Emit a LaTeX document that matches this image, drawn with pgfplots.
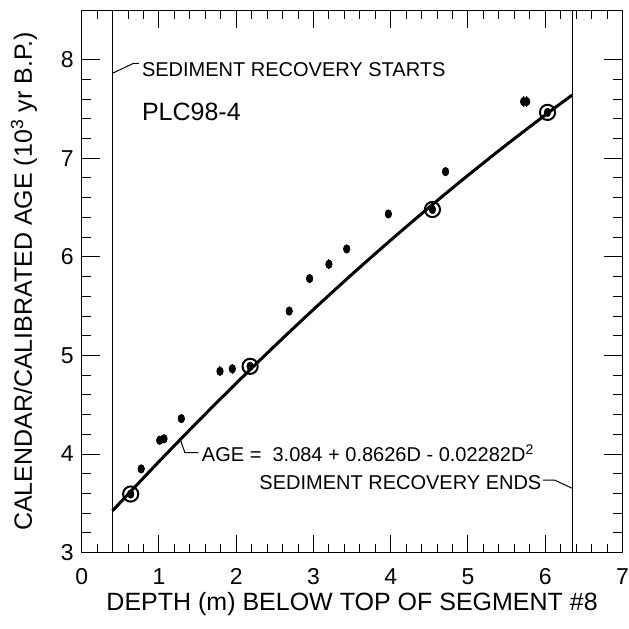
\documentclass[border=0pt]{standalone}
\usepackage{fontspec}
\setmainfont{Liberation Sans}
\usepackage{pgfplots}
\pgfplotsset{compat=1.18}

\begin{document}
\begin{tikzpicture}
\begin{axis}[
    at={(0,0)}, anchor=south west,
    scale only axis,
    width=270.4pt, height=271.2pt,
    xmin=0, xmax=7,
    ymin=3, ymax=8.5,
    xtick={0,1,...,7},
    ytick={3,4,...,8},
    minor x tick num=4,
    minor y tick num=4,
    tick align=inside,
    major tick length=9pt,
    minor tick length=4.5pt,
    axis line style={line width=0.5pt},
    every tick/.style={black, line width=0.5pt},
    /pgf/number format/assume math mode=true,
    ticklabel style={font=\fontsize{11.5}{13}\selectfont},
    xticklabel style={yshift=-4.5pt},
    yticklabel style={xshift=-0.5pt},
    xlabel={DEPTH (m) BELOW TOP OF SEGMENT \#8},
    ylabel={CALENDAR/CALIBRATED AGE (10\textsuperscript{3} yr B.P.)},
    label style={font=\fontsize{12.5}{14}\selectfont},
    xlabel shift=-3pt,
    ylabel shift=5pt,
    clip=false,
]

% sediment recovery limits
\addplot[black, line width=0.5pt] coordinates {(0.4,3) (0.4,8.5)};
\addplot[black, line width=0.5pt] coordinates {(6.35,3) (6.35,8.5)};

% fitted curve: AGE = 3.084 + 0.8626D - 0.02282D^2
\addplot[black, line width=1.5pt, smooth] coordinates {
    (0.4,3.4254) (0.5,3.5096) (1.0,3.9238) (1.5,4.3266) (2.0,4.7179)
    (2.5,5.0979) (3.0,5.4664) (3.5,5.8236) (4.0,6.1693) (4.5,6.5036)
    (5.0,6.8265) (5.5,7.1380) (6.0,7.4381) (6.35,7.6414)
};

% dated samples with errors
\addplot[only marks, mark=*, mark size=1.6pt, mark options={yscale=1.3},
    error bars/.cd, y dir=both, y explicit,
    error bar style={line width=0.5pt}, error mark=none]
    table[x=d, y=a, y error=e] {
d      a      e
0.634  3.595  0.03
0.77   3.85   0.04
1.01   4.14   0.03
1.065  4.155  0.03
1.29   4.36   0.04
1.79   4.84   0.05
1.95   4.865  0.05
2.18   4.89   0.03
2.686  5.45   0.04
2.95   5.78   0.05
3.20   5.925  0.05
3.43   6.08   0.02
3.97   6.435  0.04
4.54   6.48   0.03
4.71   6.864  0.04
5.72   7.575  0.06
5.76   7.575  0.06
6.03   7.465  0.03
};

% calibration points
\addplot[only marks, mark=o, mark size=3.8pt, mark options={line width=1pt}]
    coordinates {(0.634,3.595) (2.18,4.89) (4.54,6.48) (6.03,7.465)};

% annotations
\draw[line width=0.5pt] (axis cs:0.4,7.862) -- (axis cs:0.672,7.963) -- (axis cs:0.74,7.963);
\node[anchor=west, inner sep=0, font=\fontsize{10}{12}\selectfont]
    at (axis cs:0.776,7.895) {SEDIMENT RECOVERY STARTS};
\node[anchor=west, inner sep=0, font=\fontsize{12.5}{14}\selectfont]
    at (axis cs:0.776,7.465) {PLC98-4};
\draw[line width=0.5pt] (axis cs:1.272,4.16) -- (axis cs:1.336,4.014) -- (axis cs:1.509,4.014);
\node[anchor=west, inner sep=0, font=\fontsize{10}{12}\selectfont]
    at (axis cs:1.552,4.008) {AGE =\ \ 3.084 + 0.8626D - 0.02282D\textsuperscript{2}};
\draw[line width=0.5pt] (axis cs:5.97,3.737) -- (axis cs:6.12,3.737) -- (axis cs:6.35,3.653);
\node[anchor=east, inner sep=0, font=\fontsize{10}{12}\selectfont]
    at (axis cs:5.955,3.71) {SEDIMENT RECOVERY ENDS};

\end{axis}
\pgfresetboundingbox
\path[use as bounding box] (-40.85pt,-38.15pt) rectangle (273.65pt,276.35pt);
\end{tikzpicture}
\end{document}
